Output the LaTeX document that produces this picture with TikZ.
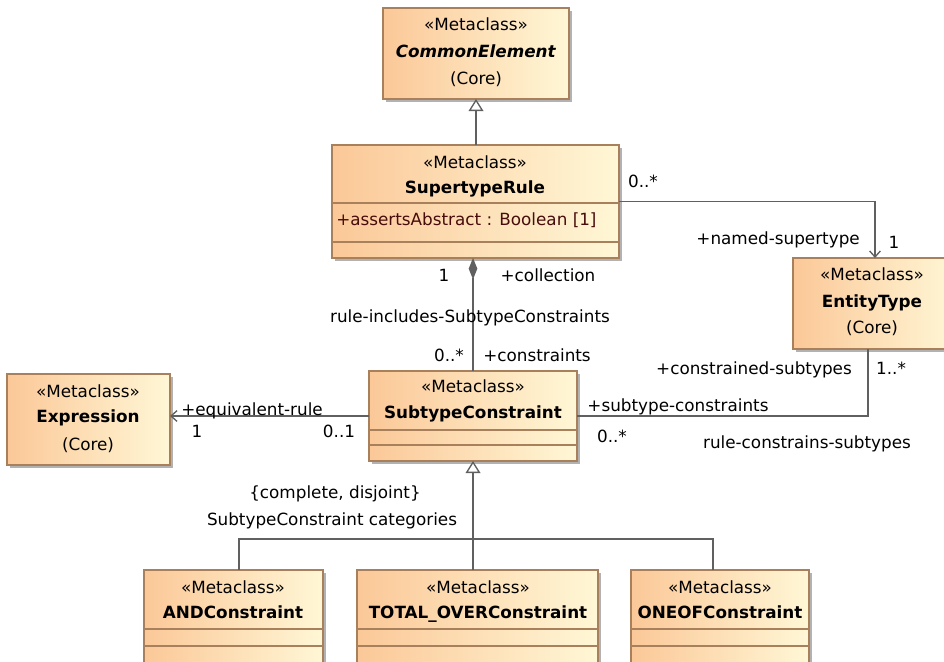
\documentclass[tikz,border=0pt]{standalone}
\usepackage{fontspec}
\setmainfont{DejaVu Sans}
\usetikzlibrary{arrows.meta,shadows,fit,calc}
\definecolor{boxL}{RGB}{251,200,152}
\definecolor{boxR}{RGB}{255,247,214}
\definecolor{boxB}{RGB}{168,128,92}
\definecolor{wirec}{RGB}{96,96,96}
\definecolor{attr}{RGB}{72,12,12}
\newcommand\complin[2]{\draw[sepline] ($(#1.north west)+(0,#2)$) -- ($(#1.north east)+(0,#2)$);}
\begin{document}
\begin{tikzpicture}[x=0.75pt,y=-0.75pt,
  font=\fontsize{12.6}{15}\selectfont,
  cls/.style={draw=boxB, line width=0.9pt, left color=boxL, right color=boxR, inner sep=0pt, outer sep=0pt,
     drop shadow={shadow xshift=2.4pt, shadow yshift=-2.4pt, fill=black!50, opacity=0.6}},
  sepline/.style={draw=boxB, line width=0.9pt},
  tx/.style={anchor=base, inner sep=0pt},
  wire/.style={draw=wirec, line width=1pt},
  gen/.style={wire, -{Triangle[open, length=9pt, width=11pt, fill=white]}},
  nav/.style={wire, -{Straight Barb[length=4.5pt, width=8pt, line width=1pt]}},
  compo/.style={wire, {Diamond[length=16pt, width=6.5pt, fill=wirec]}-},
]
\clip (0,0) rectangle (944,661);
\fill[white] (0,0) rectangle (944,661);

% class boxes
\node[cls, fit={(383,8) (569,99)}] (ce) {};
\node[cls, fit={(332,145) (619,258)}] (sr) {};
\node[cls, fit={(793,258) (957,349)}] (et) {};
\node[cls, fit={(7,374) (170,465)}] (ex) {};
\node[cls, fit={(369,371) (577,461)}] (sc) {};
\node[cls, fit={(144,570) (323,664)}] (andc) {};
\node[cls, fit={(357,570) (598,664)}] (totc) {};
\node[cls, fit={(631,570) (809,664)}] (onec) {};

\complin{sr}{58}\complin{sr}{97}
\complin{sc}{59}\complin{sc}{74}
\complin{andc}{59}\complin{andc}{76}
\complin{totc}{59}\complin{totc}{76}
\complin{onec}{59}\complin{onec}{76}

% box texts
\node[tx] (ce1) at (476,30) {«Metaclass»};
\node[tx] (ce2) at (476,57) {\textbf{\textit{CommonElement}}};
\node[tx] (ce3) at (476,84) {(Core)};
\node[tx] (sr1) at (475,168) {«Metaclass»};
\node[tx] (sr2) at (475,193) {\textbf{SupertypeRule}};
\node[tx, anchor=base west, text=attr] (sr3) at (336,225) {+assertsAbstract : Boolean [1]};
\node[tx] (et1) at (872,280) {«Metaclass»};
\node[tx] (et2) at (872,307) {\textbf{EntityType}};
\node[tx] (et3) at (872,333) {(Core)};
\node[tx] (ex1) at (88,397) {«Metaclass»};
\node[tx] (ex2) at (88,422) {\textbf{Expression}};
\node[tx] (ex3) at (88,450) {(Core)};
\node[tx] (sc1) at (473,392) {«Metaclass»};
\node[tx] (sc2) at (473,418) {\textbf{SubtypeConstraint}};
\node[tx] (an1) at (233,593) {«Metaclass»};
\node[tx] (an2) at (233,618) {\textbf{ANDConstraint}};
\node[tx] (to1) at (478,593) {«Metaclass»};
\node[tx] (to2) at (478,618) {\textbf{TOTAL\_OVERConstraint}};
\node[tx] (on1) at (720,593) {«Metaclass»};
\node[tx] (on2) at (720,618) {\textbf{ONEOFConstraint}};

% connectors
\draw[gen] (ce.south |- sr.north) -- (ce.south);
\draw[nav] (sr.east) -| (et.north);
\draw[compo] (sc.north |- sr.south) -- (sc.north);
\draw[nav] (sc.west) -- (sc.west -| ex.east);
\draw[wire] ($(et.south)+(-7,0)$) |- (sc.east);
\draw[gen] (totc.north -| sc.south) -- (sc.south);
\draw[wire] ($(andc.north)+(5.5,0)$) |- ($(onec.north)+(-7,-31)$) -- ($(onec.north)+(-7,0)$);

% connector labels
\node[tx] (l1) at (643,187) {0..*};
\node[tx, anchor=base east] (l2) at (860,244) {+named-supertype};
\node[tx] (l3) at (894,248) {1};
\node[tx] (l4) at (444,281) {1};
\node[tx] (l5) at (548,281) {+collection};
\node[tx] (l6) at (470,322) {rule-includes-SubtypeConstraints};
\node[tx] (l7) at (449,361) {0..*};
\node[tx] (l8) at (537,361) {+constraints};
\node[tx, anchor=base west] (l9) at (181,415) {+equivalent-rule};
\node[tx] (l10) at (197,437) {1};
\node[tx] (l11) at (339,437) {0..1};
\node[tx, anchor=base east] (l12) at (852,374) {+constrained-subtypes};
\node[tx] (l13) at (891,374) {1..*};
\node[tx] (l14) at (678,411) {+subtype-constraints};
\node[tx] (l15) at (612,442) {0..*};
\node[tx] (l16) at (807,448) {rule-constrains-subtypes};
\node[tx] (l17) at (335,498) {\{complete, disjoint\}};
\node[tx] (l18) at (332,525) {SubtypeConstraint categories};
\end{tikzpicture}
\end{document}
